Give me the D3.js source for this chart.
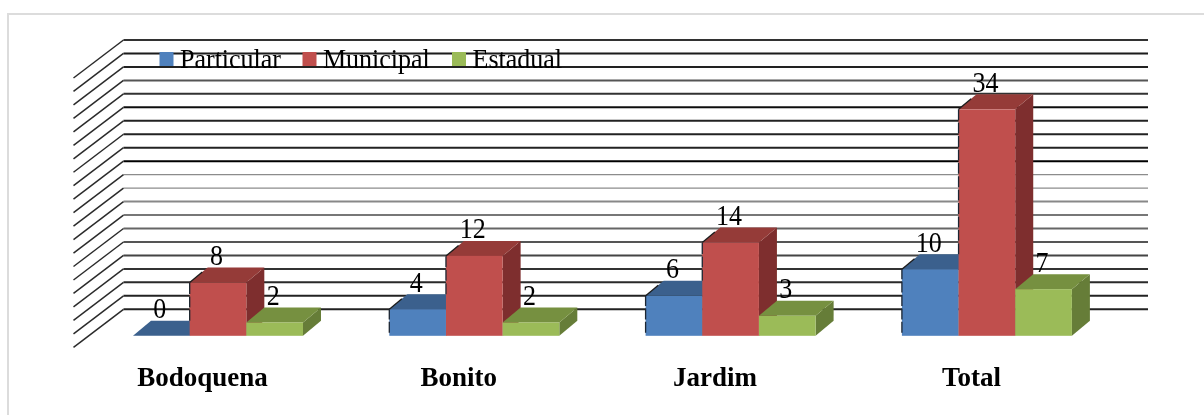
<!DOCTYPE html>
<html>
<head>
<meta charset="utf-8">
<script src="https://cdn.jsdelivr.net/npm/d3@7"></script>
<style>
html,body{margin:0;padding:0;background:#fff;overflow:hidden}
svg{display:block}
text{font-family:"Liberation Serif","Times New Roman",serif;fill:#000}
</style>
</head>
<body>
<div id="chart"></div>
<script>
const categories = ["Bodoquena", "Bonito", "Jardim", "Total"];
const seriesNames = ["Particular", "Municipal", "Estadual"];
const particular = [0, 4, 6, 10];
const municipal = [8, 12, 14, 34];
const estadual = [2, 2, 3, 7];
const gridTicks = d3.range(0, 41, 2);

const W = 1204, H = 415;
const depth = {bar: {dx: 18, dy: 15}, wall: {dx: 50, dy: 38}};
const backLeft = 123.5, right = 1148, backBottom = 309.3, backTop = 40;
const baseY = 335.8;

const seriesValues = [particular, municipal, estadual];
const palette = [
  {front: "#4f81bd", top: "#3b608d", side: "#355679"},
  {front: "#c0504d", top: "#953b39", side: "#7e2f2d"},
  {front: "#9bbb59", top: "#76903f", side: "#667d38"}
];
// darkness of each back-wall gridline, bottom to top, as it appears in the reference
const gridColor = ["#222","#222","#2a2a2a","#333","#444","#555","#666","#777","#888","#8c8c8c","#8c8c8c",
                   "#000","#222","#222","#222","#111","#333","#555","#222","#1a1a1a","#333"];
const gridWidth = gridTicks.map((d, i) => (i >= 9 && i <= 10) ? 1.2 : 2);

const svg = d3.select("#chart").append("svg").attr("width", W).attr("height", H);
const defs = svg.append("defs");
defs.append("filter").attr("id", "soft").attr("x", "-5%").attr("y", "-5%").attr("width", "110%").attr("height", "110%")
  .append("feGaussianBlur").attr("stdDeviation", 0.5);

svg.append("rect").attr("width", W).attr("height", H).attr("fill", "#fff");
svg.append("path").attr("d", `M8,${H + 5}V14H${W + 5}`).attr("fill", "none").attr("stroke", "#dcdcdc").attr("stroke-width", 2);

const root = svg.append("g").attr("filter", "url(#soft)");

const yWall = d3.scaleLinear().domain([0, 40]).range([backBottom, backTop]);
const yBar = d3.scaleLinear().domain([0, 40]).range([baseY, baseY - 40 * 6.66]);
const xCat = d3.scaleBand().domain(categories).range([133, 133 + 3 * 256.3 + 170]).paddingInner(0.3367).paddingOuter(0);
const xSer = d3.scaleBand().domain(seriesNames).range([0, xCat.bandwidth()]);

// gridlines: back wall and side wall
const grid = root.append("g");
grid.selectAll("path.back").data(gridTicks).join("path").attr("class", "back")
  .attr("fill", "none")
  .attr("stroke", (d, i) => gridColor[i])
  .attr("stroke-width", (d, i) => gridWidth[i])
  .attr("d", d => `M${backLeft},${yWall(d)}H${right}`);
grid.selectAll("path.wall").data(gridTicks).join("path").attr("class", "wall")
  .attr("fill", "none")
  .attr("stroke", "#2b2b2b")
  .attr("stroke-width", 1.5)
  .attr("d", d => `M${backLeft - depth.wall.dx},${yWall(d) + depth.wall.dy}L${backLeft},${yWall(d)}`);

// legend (sits over the gridlines)
const legendX = [159.5, 302.5, 452];
const legend = root.append("g");
seriesNames.forEach((name, i) => {
  legend.append("rect").attr("x", legendX[i]).attr("y", 52).attr("width", 14).attr("height", 14).attr("fill", palette[i].front);
  legend.append("text").attr("transform", `translate(${legendX[i] + 20.5},67.5) scale(1,1.06)`).attr("font-size", 26).text(name);
});

// bars, drawn left to right so each front hides its neighbour's side
const marks = root.append("g");
const labels = [];
seriesNames.forEach((name, s) => {
  categories.forEach((cat, c) => {
    const v = seriesValues[s][c];
    const x0 = xCat(cat) + xSer(name), x1 = x0 + xSer.bandwidth();
    const yT = yBar(v), dx = depth.bar.dx, dy = depth.bar.dy;
    const g = marks.append("g");
    g.append("path").attr("fill", palette[s].side)
      .attr("d", `M${x1},${yT}L${x1 + dx},${yT - dy}V${baseY - dy}L${x1},${baseY}Z`);
    g.append("path").attr("fill", palette[s].top)
      .attr("d", `M${x0},${yT}L${x0 + dx},${yT - dy}H${x1 + dx}L${x1},${yT}Z`);
    if (v > 0) {
      g.append("rect").attr("x", x0).attr("y", yT).attr("width", x1 - x0).attr("height", baseY - yT).attr("fill", palette[s].front);
    }
    // dark dashed edge on the outline that faces the wall
    if (s < 2 && v > 0) {
      const bottom = s === 1 ? yBar(particular[c]) - depth.bar.dy : baseY - 3;
      g.append("path").attr("fill", "none").attr("stroke", "#1c2530").attr("stroke-width", 1.3)
        .attr("stroke-dasharray", "11 2.4")
        .attr("d", `M${x0},${bottom}V${yT}`);
      g.append("path").attr("fill", "none").attr("stroke", "#1c1c1c").attr("stroke-width", 1.3)
        .attr("d", `M${x0},${yT}L${x0 + dx * 0.7},${yT - dy * 0.7}`);
    }
    labels.push({v, x: x0 + (x1 - x0) / 2 - 1.5, y: yT - dy - 2.5});
  });
});

root.append("g").selectAll("text").data(labels).join("text")
  .attr("transform", d => `translate(${d.x},${d.y}) scale(1,1.13)`)
  .attr("text-anchor", "middle").attr("font-size", 26)
  .text(d => d.v);

// category labels
root.append("g").selectAll("text").data(categories).join("text")
  .attr("x", d => xCat(d) + xCat.bandwidth() / 2 - 15.5)
  .attr("y", 385.5)
  .attr("text-anchor", "middle").attr("font-size", 27).attr("font-weight", "bold")
  .text(d => d);
</script>
</body>
</html>
